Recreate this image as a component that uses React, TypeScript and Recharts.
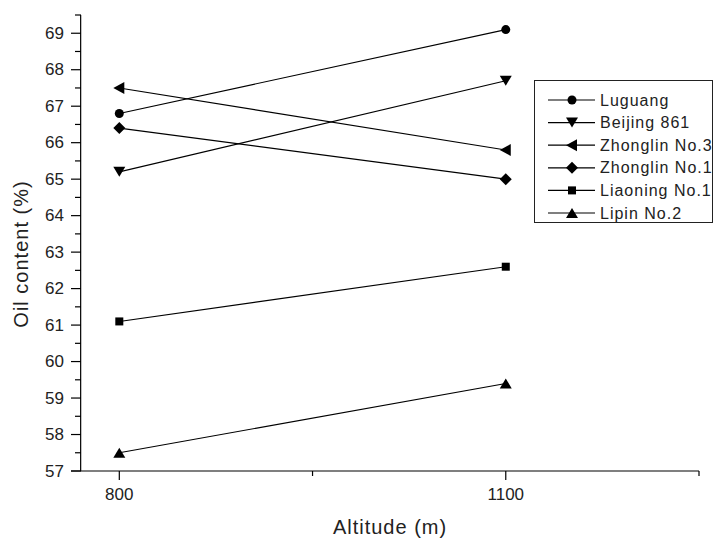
import { LineChart, Line, XAxis, YAxis, ReferenceLine } from 'recharts';

const ALTITUDES = [800, 1100];

const LUGUANG = [66.8, 69.1];
const BEIJING_861 = [65.2, 67.7];
const ZHONGLIN_3 = [67.5, 65.8];
const ZHONGLIN_1 = [66.4, 65.0];
const LIAONING_1 = [61.1, 62.6];
const LIPIN_2 = [57.5, 59.4];

const SERIES_NAMES = ['Luguang', 'Beijing 861', 'Zhonglin No.3', 'Zhonglin No.1', 'Liaoning No.1', 'Lipin No.2'];
const SERIES_KEYS = ['luguang', 'beijing861', 'zhonglin3', 'zhonglin1', 'liaoning1', 'lipin2'];
const SERIES_SHAPES = ['circle', 'down', 'left', 'diamond', 'square', 'up'];
const SERIES_VALUES = [LUGUANG, BEIJING_861, ZHONGLIN_3, ZHONGLIN_1, LIAONING_1, LIPIN_2];

const Y_MAJOR = [57, 58, 59, 60, 61, 62, 63, 64, 65, 66, 67, 68, 69];
const Y_MINOR = [57.5, 58.5, 59.5, 60.5, 61.5, 62.5, 63.5, 64.5, 65.5, 66.5, 67.5, 68.5, 69.5];
const X_MAJOR = [800, 1100];
const X_MINOR = [950, 1250];

const data = ALTITUDES.map((alt, i) => {
  const row: Record<string, number> = { alt };
  SERIES_KEYS.forEach((k, s) => {
    row[k] = SERIES_VALUES[s][i];
  });
  return row;
});

const FONT = '"Liberation Sans", Arial, sans-serif';
const TEXT = '#222';
const W = 717;
const H = 538;
const AXIS_X = 81; // y axis line sits a bit right of the plot's left edge
const AXIS_Y = 471;

function Marker({ shape, cx, cy }: { shape: string; cx: number; cy: number }) {
  const f = '#000';
  switch (shape) {
    case 'circle':
      return <circle cx={cx} cy={cy} r={4.5} fill={f} />;
    case 'down':
      return <polygon points={`${cx - 6},${cy - 5} ${cx + 6},${cy - 5} ${cx},${cy + 5}`} fill={f} />;
    case 'left':
      return <polygon points={`${cx - 6},${cy} ${cx + 5},${cy - 6} ${cx + 5},${cy + 6}`} fill={f} />;
    case 'diamond':
      return <polygon points={`${cx},${cy - 6} ${cx + 6},${cy} ${cx},${cy + 6} ${cx - 6},${cy}`} fill={f} />;
    case 'square':
      return <rect x={cx - 4} y={cy - 4} width={8} height={8} fill={f} />;
    default:
      return <polygon points={`${cx - 6},${cy + 5} ${cx + 6},${cy + 5} ${cx},${cy - 5}`} fill={f} />;
  }
}

const YTick = (props: any) => {
  const { y, payload } = props;
  const major = Y_MAJOR.includes(Number(payload.value));
  return (
    <g>
      <line x1={AXIS_X - (major ? 10 : 6)} x2={AXIS_X} y1={y} y2={y} stroke="#000" strokeWidth={1.2} />
      {major && (
        <text x={AXIS_X - 17} y={y} textAnchor="end" dominantBaseline="central" fontSize={17} fill={TEXT} fontFamily={FONT}>
          {payload.value}
        </text>
      )}
    </g>
  );
};

const XTick = (props: any) => {
  const { x, payload } = props;
  const major = X_MAJOR.includes(Number(payload.value));
  return (
    <g>
      <line x1={x} x2={x} y1={AXIS_Y} y2={AXIS_Y + (major ? 9 : 5)} stroke="#000" strokeWidth={1.2} />
      {major && (
        <text x={x} y={AXIS_Y + 23} textAnchor="middle" dominantBaseline="central" fontSize={17} fill={TEXT} fontFamily={FONT}>
          {payload.value}
        </text>
      )}
    </g>
  );
};

function LegendBox() {
  return (
    <div
      style={{
        position: 'absolute',
        left: 534,
        top: 80,
        width: 179,
        height: 143,
        border: '1.5px solid #222',
        background: '#fff',
        boxSizing: 'border-box',
      }}
    >
      <svg width={179} height={143}>
        {SERIES_NAMES.map((name, i) => {
          const cy = 19 + i * 22.6;
          return (
            <g key={name}>
              <line x1={13} x2={60} y1={cy} y2={cy} stroke="#000" strokeWidth={1.2} />
              <Marker shape={SERIES_SHAPES[i]} cx={37} cy={cy} />
              <text x={65} y={cy} dominantBaseline="central" fontSize={16} letterSpacing={1} fill={TEXT} fontFamily={FONT}>
                {name}
              </text>
            </g>
          );
        })}
      </svg>
    </div>
  );
}

export default function App() {
  return (
    <div style={{ position: 'absolute', left: 0, top: 0, width: W, height: H, background: '#fff' }}>
      <LineChart width={W} height={H} data={data} margin={{ top: 15, right: 18, bottom: 0, left: 0 }}>
        <XAxis
          dataKey="alt"
          type="number"
          domain={[762.5, 1250]}
          ticks={[...X_MAJOR, ...X_MINOR].sort((a, b) => a - b)}
          interval={0}
          allowDataOverflow
          height={67}
          stroke="#000"
          strokeWidth={1.2}
          tickLine={false}
          tick={<XTick />}
          label={{
            content: () => (
              <text x={390} y={527} textAnchor="middle" dominantBaseline="central" fontSize={20} letterSpacing={1} fill={TEXT} fontFamily={FONT}>
                Altitude (m)
              </text>
            ),
          }}
        />
        <YAxis
          type="number"
          domain={[57, 69.5]}
          ticks={[...Y_MAJOR, ...Y_MINOR].sort((a, b) => a - b)}
          interval={0}
          allowDataOverflow
          width={71}
          axisLine={false}
          tickLine={false}
          tick={<YTick />}
          label={{
            content: () => (
              <text
                transform="translate(21,254) rotate(-90)"
                textAnchor="middle"
                dominantBaseline="central"
                fontSize={20}
                letterSpacing={1}
                fill={TEXT}
                fontFamily={FONT}
              >
                Oil content (%)
              </text>
            ),
          }}
        />
        <ReferenceLine x={770} stroke="#000" strokeWidth={1.2} />
        {SERIES_KEYS.map((k, i) => (
          <Line
            key={k}
            dataKey={k}
            name={SERIES_NAMES[i]}
            type="linear"
            stroke="#000"
            strokeWidth={1.1}
            isAnimationActive={false}
            dot={(p: any) => <Marker key={`${k}-${p.index}`} shape={SERIES_SHAPES[i]} cx={p.cx} cy={p.cy} />}
            activeDot={false}
          />
        ))}
      </LineChart>
      <LegendBox />
    </div>
  );
}
